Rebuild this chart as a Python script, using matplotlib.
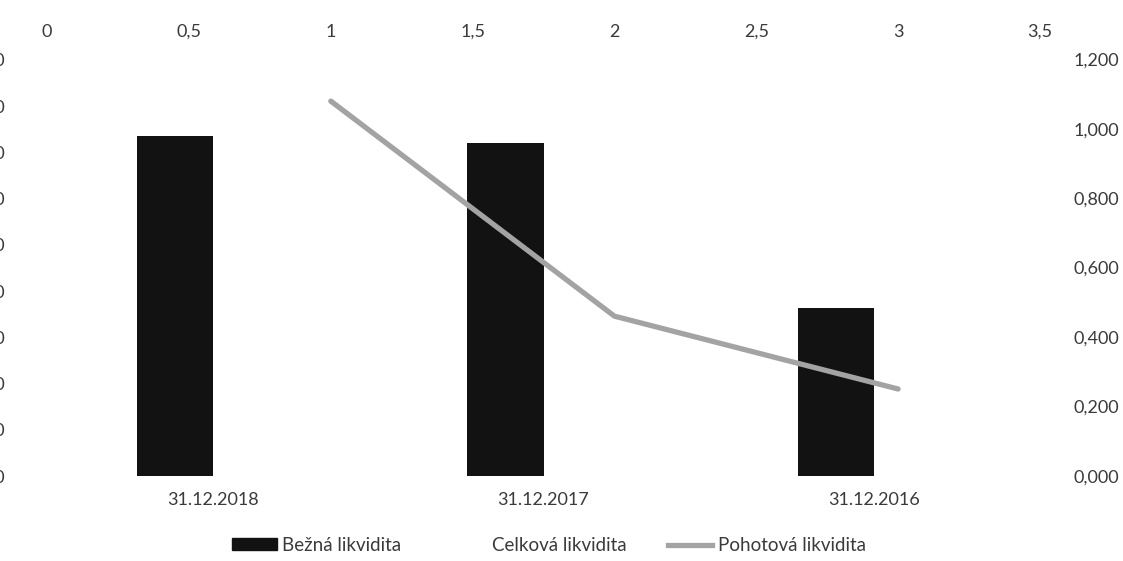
import numpy as np
import matplotlib
matplotlib.use("Agg")
import matplotlib.pyplot as plt
from matplotlib.patches import Patch
from matplotlib.lines import Line2D

dates = ["31.12.2018", "31.12.2017", "31.12.2016"]
bezna = [1.47, 1.44, 0.725]
celkova = [0, 0, 0]          # series drawn white in the original, nothing visible
pohotova_x = [1, 2, 3]
pohotova = [1.08, 0.46, 0.25]

plt.rcParams['font.family'] = ['Lato', 'DejaVu Sans']
txt = '#3a3a3a'
fs = 13

fig = plt.figure(figsize=(11.23, 5.61), dpi=100)
rect = [0.042, 0.152, 0.884, 0.742]
ax = fig.add_axes(rect)

x = np.arange(len(dates))
w = 0.23
ax.bar(x - w / 2, bezna, w, color='#121212')
ax.bar(x + w / 2, celkova, w, color='white')
ax.set_xlim(-0.5, 2.5)
ax.set_ylim(0, 1.8)
yt = np.arange(0, 1.81, 0.2)
# left axis labels run off the left edge of the scan, as in the original
ax.set_yticks(yt, [f"{v:.3f}".replace('.', ',') for v in yt])
ax.set_xticks(x, dates)
ax.tick_params(axis='y', length=0, pad=30, labelsize=fs, labelcolor=txt)
ax.tick_params(axis='x', length=0, pad=12, labelsize=fs, labelcolor=txt)
for s in ax.spines.values():
    s.set_visible(False)

# secondary axes: top x, right y
ax2 = fig.add_axes(rect, frameon=False)
ax2.patch.set_visible(False)
ax2.plot(pohotova_x, pohotova, color='#a3a3a3', lw=3.8, solid_capstyle='round')
ax2.set_xlim(0, 3.5)
ax2.set_ylim(0, 1.2)
xt = np.arange(0, 3.51, 0.5)
ax2.set_xticks(xt, [f"{v:g}".replace('.', ',') for v in xt])
yt2 = np.arange(0, 1.21, 0.2)
ax2.set_yticks(yt2, [f"{v:.3f}".replace('.', ',') for v in yt2])
ax2.xaxis.tick_top()
ax2.yaxis.tick_right()
ax2.tick_params(axis='x', length=0, pad=14, labelsize=fs, labelcolor=txt)
ax2.tick_params(axis='y', length=0, pad=24, labelsize=fs, labelcolor=txt)

handles = [Patch(color='#121212'), Patch(color='white'),
           Line2D([], [], color='#a3a3a3', lw=3.8)]
labels = ["Bežná likvidita", "Celková likvidita", "Pohotová likvidita"]
fig.legend(handles, labels, loc='center', bbox_to_anchor=(0.489, 0.028), ncol=3,
           frameon=False, fontsize=13.5, labelcolor=txt, handlelength=2.35,
           handleheight=0.6, handletextpad=0.3, columnspacing=2.2)

fig.savefig("out.png", dpi=100)
